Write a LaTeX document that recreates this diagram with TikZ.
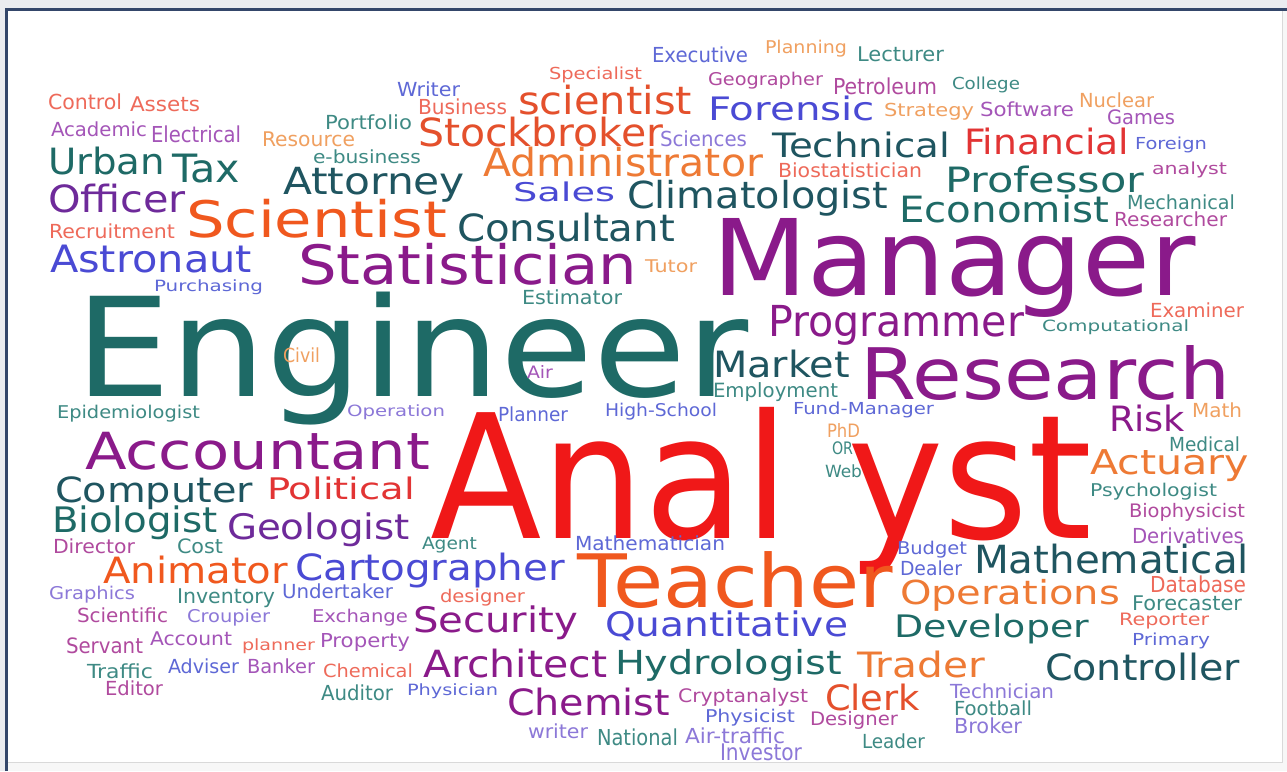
\documentclass[tikz,border=0pt]{standalone}
\usepackage{graphicx}
\usepackage{fontspec}
\setmainfont{DejaVu Sans}
\definecolor{cteal}{HTML}{1E6A66}
\definecolor{cdteal}{HTML}{1F5560}
\definecolor{cpurple}{HTML}{8A1A8A}
\definecolor{cviolet}{HTML}{6E2A9A}
\definecolor{cred}{HTML}{F01818}
\definecolor{cred2}{HTML}{E23434}
\definecolor{corange}{HTML}{F0581E}
\definecolor{cdorange}{HTML}{E4502C}
\definecolor{corange2}{HTML}{EE7A35}
\definecolor{cblue}{HTML}{4A4AD4}
\definecolor{lteal}{HTML}{3E8A84}
\definecolor{lpurple}{HTML}{A455B8}
\definecolor{lpink}{HTML}{B04A9E}
\definecolor{lblue}{HTML}{5E68D6}
\definecolor{llav}{HTML}{8C78D8}
\definecolor{lorange}{HTML}{F0A060}
\definecolor{lcoral}{HTML}{EE6A5A}
\definecolor{framecol}{HTML}{34466A}
\tikzset{word/.style={anchor=north west,inner sep=0pt,outer sep=0pt}}
\begin{document}
\begin{tikzpicture}[x=1pt,y=-1pt]
    \useasboundingbox (0,0) rectangle (1287,771);
    \fill[white] (0,0) rectangle (1287,771);
    \fill[framecol!10] (0,0) rectangle (1287,8);
    \fill[framecol!10] (0,0) rectangle (5,771);
    \fill[gray!6] (1282,9) rectangle (1287,771);
    \fill[gray!6] (6,762) rectangle (1287,771);
    \draw[gray!30] (1282,9) -- (1282,762) -- (6,762);
    \draw[framecol,line width=2.5pt] (6.5,771) -- (6.5,9.5) -- (1287,9.5);
    % big words first
    \node[word,text=cteal] (engineer) at (75,292) {\resizebox*{673pt}{133pt}{Engineer}};
    \node[word,text=cpurple] (manager) at (712,218) {\resizebox*{484pt}{99pt}{Manager}};
    \node[word,text=cred] (analyst) at (430,407) {\resizebox*{662pt}{167pt}{Anal\kern3.5pt yst}};
    % top rows
    \node[word,text=lblue] (executive) at (652,47) {\resizebox*{96pt}{16pt}{Executive}};
    \node[word,text=lorange] (planning) at (765,40) {\resizebox*{82pt}{17pt}{Planning}};
    \node[word,text=lteal] (lecturer) at (857,47) {\resizebox*{87pt}{15pt}{Lecturer}};
    \node[word,text=lblue] (writer) at (397,82) {\resizebox*{63pt}{15pt}{Writer}};
    \node[word,text=lcoral] (specialist) at (549,67) {\resizebox*{93pt}{16pt}{Specialist}};
    \node[word,text=lpink] (geographer) at (708,72) {\resizebox*{115pt}{17pt}{Geographer}};
    \node[word,text=lpink] (petroleum) at (833,78) {\resizebox*{104pt}{17pt}{Petroleum}};
    \node[word,text=lteal] (college) at (952,77) {\resizebox*{68pt}{16pt}{College}};
    \node[word,text=lcoral] (control) at (48,94) {\resizebox*{74pt}{16pt}{Control}};
    \node[word,text=lcoral] (assets) at (130,97) {\resizebox*{70pt}{15pt}{Assets}};
    \node[word,text=lteal] (portfolio) at (325,115) {\resizebox*{87pt}{15pt}{Portfolio}};
    \node[word,text=lcoral] (business) at (418,99) {\resizebox*{89pt}{16pt}{Business}};
    \node[word,text=cdorange] (scientistsmall) at (518,85) {\resizebox*{174pt}{30pt}{scientist}};
    \node[word,text=cblue] (forensic) at (708,96) {\resizebox*{167pt}{25pt}{Forensic}};
    \node[word,text=lorange] (strategy) at (884,103) {\resizebox*{90pt}{17pt}{Strategy}};
    \node[word,text=lpurple] (software) at (980,102) {\resizebox*{94pt}{15pt}{Software}};
    \node[word,text=lorange] (nuclear) at (1079,93) {\resizebox*{75pt}{15pt}{Nuclear}};
    \node[word,text=lpurple] (games) at (1107,110) {\resizebox*{68pt}{15pt}{Games}};
    \node[word,text=lpurple] (academic) at (51,122) {\resizebox*{96pt}{15pt}{Academic}};
    \node[word,text=lpurple] (electrical) at (151,126) {\resizebox*{90pt}{17pt}{Electrical}};
    \node[word,text=lorange] (resource) at (262,132) {\resizebox*{93pt}{15pt}{Resource}};
    \node[word,text=cdorange] (stockbroker) at (418,117) {\resizebox*{245pt}{30pt}{Stockbroker}};
    \node[word,text=llav] (sciences) at (660,131) {\resizebox*{87pt}{16pt}{Sciences}};
    \node[word,text=cdteal] (technical) at (772,132) {\resizebox*{178pt}{26pt}{Technical}};
    \node[word,text=cred2] (financial) at (964,128) {\resizebox*{165pt}{27pt}{Financial}};
    \node[word,text=lblue] (foreign) at (1135,137) {\resizebox*{72pt}{16pt}{Foreign}};
    \node[word,text=cteal] (urban) at (48,147) {\resizebox*{117pt}{28pt}{Urban}};
    \node[word,text=cteal] (tax) at (172,154) {\resizebox*{68pt}{29pt}{Tax}};
    \node[word,text=lteal] (ebusiness) at (313,150) {\resizebox*{108pt}{14pt}{e-business}};
    \node[word,text=corange2] (administrator) at (483,147) {\resizebox*{280pt}{30pt}{Administrator}};
    \node[word,text=lcoral] (biostatistician) at (778,163) {\resizebox*{144pt}{15pt}{Biostatistician}};
    \node[word,text=lpink] (analystsmall) at (1152,162) {\resizebox*{75pt}{16pt}{analyst}};
    \node[word,text=cviolet] (officer) at (48,184) {\resizebox*{138pt}{29pt}{Officer}};
    \node[word,text=cdteal] (attorney) at (283,167) {\resizebox*{182pt}{35pt}{Attorney}};
    \node[word,text=cblue] (sales) at (513,182) {\resizebox*{102pt}{20pt}{Sales}};
    \node[word,text=cdteal] (climatologist) at (627,180) {\resizebox*{261pt}{36pt}{Climatologist}};
    \node[word,text=cteal] (professor) at (945,166) {\resizebox*{199pt}{27pt}{Professor}};
    \node[word,text=lteal] (mechanical) at (1127,195) {\resizebox*{108pt}{15pt}{Mechanical}};
    \node[word,text=corange] (scientist) at (186,199) {\resizebox*{261pt}{39pt}{Scientist}};
    \node[word,text=cdteal] (consultant) at (457,213) {\resizebox*{218pt}{29pt}{Consultant}};
    \node[word,text=cteal] (economist) at (899,195) {\resizebox*{210pt}{28pt}{Economist}};
    \node[word,text=lpink] (researcher) at (1114,212) {\resizebox*{113pt}{15pt}{Researcher}};
    \node[word,text=lcoral] (recruitment) at (49,224) {\resizebox*{126pt}{15pt}{Recruitment}};
    \node[word,text=cblue] (astronaut) at (50,245) {\resizebox*{202pt}{28pt}{Astronaut}};
    \node[word,text=cpurple] (statistician) at (298,243) {\resizebox*{339pt}{42pt}{Statistician}};
    \node[word,text=lorange] (tutor) at (645,260) {\resizebox*{52pt}{13pt}{Tutor}};
    % middle rows
    \node[word,text=lblue] (purchasing) at (154,280) {\resizebox*{109pt}{15pt}{Purchasing}};
    \node[word,text=lteal] (estimator) at (522,290) {\resizebox*{100pt}{15pt}{Estimator}};
    \node[word,text=cpurple] (programmer) at (768,305) {\resizebox*{256pt}{40pt}{Programmer}};
    \node[word,text=lcoral] (examiner) at (1150,303) {\resizebox*{94pt}{15pt}{Examiner}};
    \node[word,text=lteal] (computational) at (1042,320) {\resizebox*{147pt}{15pt}{Computational}};
    \node[word,text=lorange] (civil) at (283,348) {\resizebox*{37pt}{15pt}{Civil}};
    \node[word,text=cdteal] (market) at (713,350) {\resizebox*{137pt}{28pt}{Market}};
    \node[word,text=cpurple] (research) at (860,345) {\resizebox*{370pt}{55pt}{Research}};
    \node[word,text=lpurple] (air) at (527,365) {\resizebox*{26pt}{13pt}{Air}};
    \node[word,text=lteal] (employment) at (713,383) {\resizebox*{125pt}{19pt}{Employment}};
    \node[word,text=lteal] (epidemiologist) at (57,405) {\resizebox*{143pt}{17pt}{Epidemiologist}};
    \node[word,text=llav] (operation) at (347,405) {\resizebox*{98pt}{15pt}{Operation}};
    \node[word,text=lblue] (planner) at (498,407) {\resizebox*{70pt}{15pt}{Planner}};
    \node[word,text=lblue] (highschool) at (605,403) {\resizebox*{112pt}{17pt}{High-School}};
    \node[word,text=lblue] (fundmanager) at (793,402) {\resizebox*{141pt}{16pt}{Fund-Manager}};
    \node[word,text=cpurple] (risk) at (1109,405) {\resizebox*{76pt}{27pt}{Risk}};
    \node[word,text=lorange] (math) at (1192,403) {\resizebox*{50pt}{15pt}{Math}};
    \node[word,text=lorange] (phd) at (827,423) {\resizebox*{33pt}{14pt}{PhD}};
    \node[word,text=lteal] (or) at (832,442) {\resizebox*{21pt}{13pt}{OR}};
    \node[word,text=lteal] (medical) at (1169,437) {\resizebox*{71pt}{15pt}{Medical}};
    \node[word,text=cpurple] (accountant) at (85,432) {\resizebox*{345pt}{38pt}{Accountant}};
    \node[word,text=lteal] (web) at (825,465) {\resizebox*{37pt}{13pt}{Web}};
    \node[word,text=corange2] (actuary) at (1090,450) {\resizebox*{159pt}{32pt}{Actuary}};
    \node[word,text=cdteal] (computer) at (55,477) {\resizebox*{198pt}{33pt}{Computer}};
    \node[word,text=cred2] (political) at (267,477) {\resizebox*{148pt}{23pt}{Political}};
    \node[word,text=lteal] (psychologist) at (1090,483) {\resizebox*{127pt}{17pt}{Psychologist}};
    \node[word,text=cteal] (biologist) at (52,506) {\resizebox*{166pt}{34pt}{Biologist}};
    \node[word,text=cviolet] (geologist) at (227,513) {\resizebox*{183pt}{34pt}{Geologist}};
    \node[word,text=lpink] (biophysicist) at (1129,503) {\resizebox*{116pt}{18pt}{Biophysicist}};
    % lower rows
    \node[word,text=lpink] (director) at (53,539) {\resizebox*{82pt}{15pt}{Director}};
    \node[word,text=lteal] (cost) at (177,539) {\resizebox*{46pt}{15pt}{Cost}};
    \node[word,text=lteal] (agent) at (422,537) {\resizebox*{55pt}{16pt}{Agent}};
    \node[word,text=lblue] (mathematician) at (575,536) {\resizebox*{150pt}{15pt}{Mathematician}};
    \node[word,text=lpurple] (derivatives) at (1132,528) {\resizebox*{112pt}{16pt}{Derivatives}};
    \node[word,text=lblue] (budget) at (897,541) {\resizebox*{70pt}{17pt}{Budget}};
    \node[word,text=corange] (animator) at (103,556) {\resizebox*{185pt}{28pt}{Animator}};
    \node[word,text=cblue] (cartographer) at (295,553) {\resizebox*{270pt}{35pt}{Cartographer}};
    \node[word,text=corange] (teacher) at (577,552) {\resizebox*{316pt}{57pt}{Teacher}};
    \node[word,text=lblue] (dealer) at (900,561) {\resizebox*{62pt}{15pt}{Dealer}};
    \node[word,text=cdteal] (mathematical) at (974,544) {\resizebox*{275pt}{30pt}{Mathematical}};
    \node[word,text=llav] (graphics) at (49,586) {\resizebox*{86pt}{17pt}{Graphics}};
    \node[word,text=lteal] (inventory) at (177,589) {\resizebox*{98pt}{19pt}{Inventory}};
    \node[word,text=lblue] (undertaker) at (282,584) {\resizebox*{111pt}{15pt}{Undertaker}};
    \node[word,text=lcoral] (designersmall) at (440,589) {\resizebox*{85pt}{17pt}{designer}};
    \node[word,text=lcoral] (database) at (1150,576) {\resizebox*{96pt}{17pt}{Database}};
    \node[word,text=lpink] (scientific) at (77,608) {\resizebox*{91pt}{15pt}{Scientific}};
    \node[word,text=llav] (croupier) at (187,609) {\resizebox*{83pt}{17pt}{Croupier}};
    \node[word,text=lpurple] (exchange) at (312,609) {\resizebox*{96pt}{17pt}{Exchange}};
    \node[word,text=cpurple] (security) at (413,606) {\resizebox*{165pt}{34pt}{Security}};
    \node[word,text=corange2] (operations) at (900,579) {\resizebox*{220pt}{32pt}{Operations}};
    \node[word,text=lteal] (forecaster) at (1132,596) {\resizebox*{110pt}{15pt}{Forecaster}};
    \node[word,text=lpink] (servant) at (66,638) {\resizebox*{77pt}{16pt}{Servant}};
    \node[word,text=lpurple] (account) at (150,632) {\resizebox*{82pt}{14pt}{Account}};
    \node[word,text=lcoral] (plannersmall) at (242,639) {\resizebox*{73pt}{15pt}{planner}};
    \node[word,text=lpurple] (property) at (320,633) {\resizebox*{90pt}{18pt}{Property}};
    \node[word,text=cblue] (quantitative) at (605,611) {\resizebox*{243pt}{30pt}{Quantitative}};
    \node[word,text=cteal] (developer) at (894,614) {\resizebox*{195pt}{30pt}{Developer}};
    \node[word,text=lcoral] (reporter) at (1119,613) {\resizebox*{90pt}{16pt}{Reporter}};
    \node[word,text=lblue] (primary) at (1132,633) {\resizebox*{78pt}{16pt}{Primary}};
    \node[word,text=lteal] (traffic) at (87,664) {\resizebox*{66pt}{15pt}{Traffic}};
    \node[word,text=lblue] (adviser) at (168,659) {\resizebox*{71pt}{15pt}{Adviser}};
    \node[word,text=lpurple] (banker) at (247,659) {\resizebox*{68pt}{15pt}{Banker}};
    \node[word,text=lcoral] (chemical) at (323,664) {\resizebox*{90pt}{14pt}{Chemical}};
    \node[word,text=cpurple] (architect) at (423,649) {\resizebox*{184pt}{29pt}{Architect}};
    \node[word,text=cteal] (hydrologist) at (615,649) {\resizebox*{227pt}{32pt}{Hydrologist}};
    \node[word,text=corange2] (trader) at (857,651) {\resizebox*{128pt}{27pt}{Trader}};
    \node[word,text=cdteal] (controller) at (1045,653) {\resizebox*{195pt}{28pt}{Controller}};
    \node[word,text=lpink] (editor) at (105,681) {\resizebox*{58pt}{15pt}{Editor}};
    \node[word,text=lteal] (auditor) at (321,685) {\resizebox*{72pt}{16pt}{Auditor}};
    \node[word,text=lblue] (physician) at (407,684) {\resizebox*{91pt}{15pt}{Physician}};
    \node[word,text=cpurple] (chemist) at (507,688) {\resizebox*{163pt}{28pt}{Chemist}};
    \node[word,text=lpink] (cryptanalyst) at (678,688) {\resizebox*{130pt}{18pt}{Cryptanalyst}};
    \node[word,text=cdorange] (clerk) at (825,684) {\resizebox*{95pt}{27pt}{Clerk}};
    \node[word,text=llav] (technician) at (950,684) {\resizebox*{104pt}{15pt}{Technician}};
    \node[word,text=lblue] (physicist) at (705,709) {\resizebox*{90pt}{17pt}{Physicist}};
    \node[word,text=lpink] (designer) at (810,711) {\resizebox*{88pt}{18pt}{Designer}};
    \node[word,text=lteal] (football) at (954,701) {\resizebox*{78pt}{15pt}{Football}};
    \node[word,text=llav] (writersmall) at (528,724) {\resizebox*{60pt}{15pt}{writer}};
    \node[word,text=lteal] (national) at (597,729) {\resizebox*{81pt}{17pt}{National}};
    \node[word,text=llav] (airtraffic) at (685,728) {\resizebox*{100pt}{16pt}{Air-traffic}};
    \node[word,text=llav] (broker) at (954,718) {\resizebox*{68pt}{16pt}{Broker}};
    \node[word,text=llav] (investor) at (720,744) {\resizebox*{82pt}{17pt}{Investor}};
    \node[word,text=lteal] (leader) at (862,734) {\resizebox*{63pt}{15pt}{Leader}};
\end{tikzpicture}
\end{document}
